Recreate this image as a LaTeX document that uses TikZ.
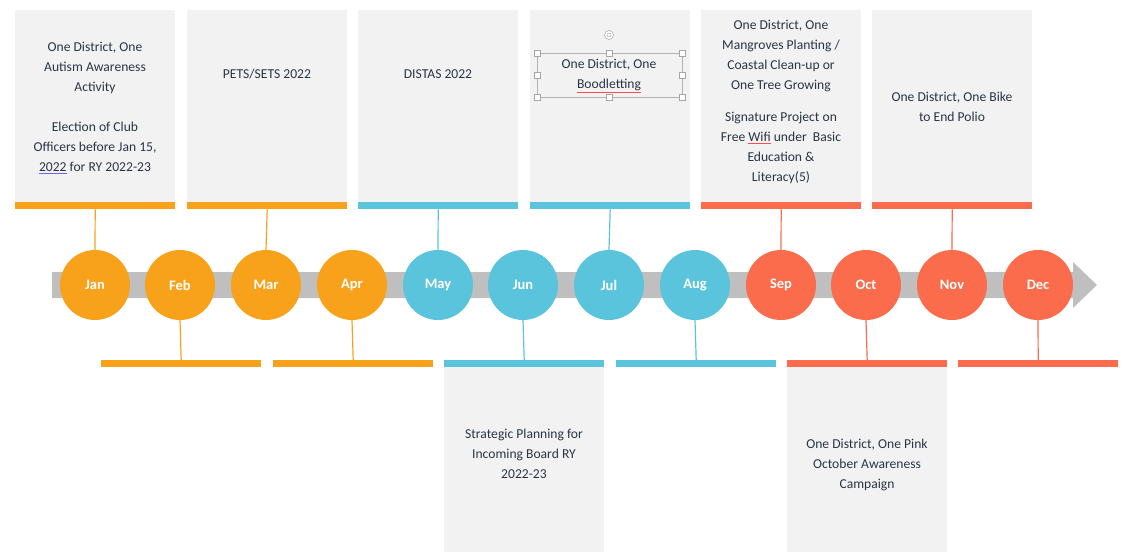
\documentclass[tikz,border=0pt]{standalone}
\usepackage{fontspec}
\setmainfont{Carlito}
\usepackage{tikz}

\definecolor{tlorange}{HTML}{F8A21C}
\definecolor{tlblue}{HTML}{5BC4DD}
\definecolor{tlred}{HTML}{FA6C4B}
\definecolor{panelgray}{HTML}{F2F2F2}
\definecolor{trackgray}{HTML}{BFBFBF}
\definecolor{ink}{HTML}{2B3445}

% word with a spell-check style underline
\newcommand{\markword}[2]{\rlap{\color{#1}\underline{\phantom{#2}}}#2}

\tikzset{
  month/.style={circle, fill=#1, minimum size=70pt, inner sep=0pt, text=white,
    font=\bfseries\fontsize{14.5}{16}\selectfont},
  panel/.style={fill=panelgray, minimum width=160pt, minimum height=#1, inner sep=0pt, anchor=north west},
  stripe/.style={fill=#1, minimum width=160pt, minimum height=7pt, inner sep=0pt, anchor=north west},
  link/.style={draw=#1, line width=1.2pt},
  note/.style={align=center, text=ink, inner sep=0pt, font=\fontsize{13.6}{20}\selectfont},
}

\begin{document}
\begin{tikzpicture}[x=1pt, y=-1pt]
  \useasboundingbox (0,0) rectangle (1125,552);

  % track with arrow head
  \fill[trackgray] (52,272) -- (1073,272) -- (1073,262) -- (1097,285) -- (1073,308) -- (1073,298) -- (52,298) -- cycle;

  % months
  \node[month=tlorange] (jan) at (95,285) {Jan};
  \node[month=tlorange] (feb) at (180,285) {Feb};
  \node[month=tlorange] (mar) at (266,285) {Mar};
  \node[month=tlorange] (apr) at (352,285) {Apr};
  \node[month=tlblue] (may) at (438,285) {May};
  \node[month=tlblue] (jun) at (523,285) {Jun};
  \node[month=tlblue] (jul) at (609,285) {Jul};
  \node[month=tlblue] (aug) at (695,285) {Aug};
  \node[month=tlred] (sep) at (781,285) {Sep};
  \node[month=tlred] (oct) at (866,285) {Oct};
  \node[month=tlred] (nov) at (952,285) {Nov};
  \node[month=tlred] (dec) at (1038,285) {Dec};

  % top panels
  \node[panel=192pt] (janpanel) at (15,10) {};
  \node[panel=192pt] (marpanel) at (187,10) {};
  \node[panel=192pt] (maypanel) at (358,10) {};
  \node[panel=192pt] (julpanel) at (530,10) {};
  \node[panel=192pt] (seppanel) at (701,10) {};
  \node[panel=192pt] (novpanel) at (872,10) {};
  \node[stripe=tlorange] (janbar) at (15,202) {};
  \node[stripe=tlorange] (marbar) at (187,202) {};
  \node[stripe=tlblue] (maybar) at (358,202) {};
  \node[stripe=tlblue] (julbar) at (530,202) {};
  \node[stripe=tlred] (sepbar) at (701,202) {};
  \node[stripe=tlred] (novbar) at (872,202) {};

  % bottom bars and panels
  \node[stripe=tlorange] (febbar) at (101,360) {};
  \node[stripe=tlorange] (aprbar) at (273,360) {};
  \node[stripe=tlblue] (junbar) at (444,360) {};
  \node[stripe=tlblue] (augbar) at (616,360) {};
  \node[stripe=tlred] (octbar) at (787,360) {};
  \node[stripe=tlred] (decbar) at (958,360) {};
  \node[panel=185pt] (junpanel) at (444,367) {};
  \node[panel=185pt] (octpanel) at (787,367) {};

  % connectors
  \draw[link=tlorange] (janbar.south) -- (jan.north);
  \draw[link=tlorange] (marbar.south) -- (mar.north);
  \draw[link=tlblue] (maybar.south) -- (may.north);
  \draw[link=tlblue] (julbar.south) -- (jul.north);
  \draw[link=tlred] (sepbar.south) -- (sep.north);
  \draw[link=tlred] (novbar.south) -- (nov.north);
  \draw[link=tlorange] (feb.south) -- (febbar.north);
  \draw[link=tlorange] (apr.south) -- (aprbar.north);
  \draw[link=tlblue] (jun.south) -- (junbar.north);
  \draw[link=tlblue] (aug.south) -- (augbar.north);
  \draw[link=tlred] (oct.south) -- (octbar.north);
  \draw[link=tlred] (dec.south) -- (decbar.north);

  % texts
  \node[note] (jantext) at (95,108) {One District, One\\Autism Awareness\\Activity\\[20pt]
    Election of Club\\Officers before Jan 15,\\\markword{blue!60}{2022} for RY 2022-23};
  \node[note] (martext) at (267,74) {PETS/SETS 2022};
  \node[note] (maytext) at (438,74) {DISTAS 2022};
  \node[note] (jultext) at (609,76) {One District, One\\\markword{red!70}{Boodletting}};
  \node[note] (septext) at (781,102) {One District, One\\Mangroves Planting /\\Coastal Clean-up or\\One Tree Growing\\[12pt]
    Signature Project on\\Free \markword{red!70}{Wifi} under~ Basic\\Education \&\\Literacy(5)};
  \node[note] (novtext) at (952,107) {One District, One Bike\\to End Polio};
  \node[note] (juntext) at (524,454) {Strategic Planning for\\Incoming Board RY\\2022-23};
  \node[note] (octtext) at (867,465) {One District, One Pink\\October Awareness\\Campaign};

  % selection frame round the July text
  \draw[gray!60, line width=0.6pt] (537,53) rectangle (682,97);
  \foreach \hx/\hy in {537/53, 609/53, 682/53, 537/75, 682/75, 537/97, 609/97, 682/97}
    \draw[gray!70, fill=white, line width=0.5pt] (\hx-3,\hy-3) rectangle (\hx+3,\hy+3);
  \draw[gray!70, fill=white, line width=0.5pt] (609,35) circle (4.5pt);
  \draw[gray!70, line width=0.5pt] (609,35) circle (2pt);
\end{tikzpicture}
\end{document}
